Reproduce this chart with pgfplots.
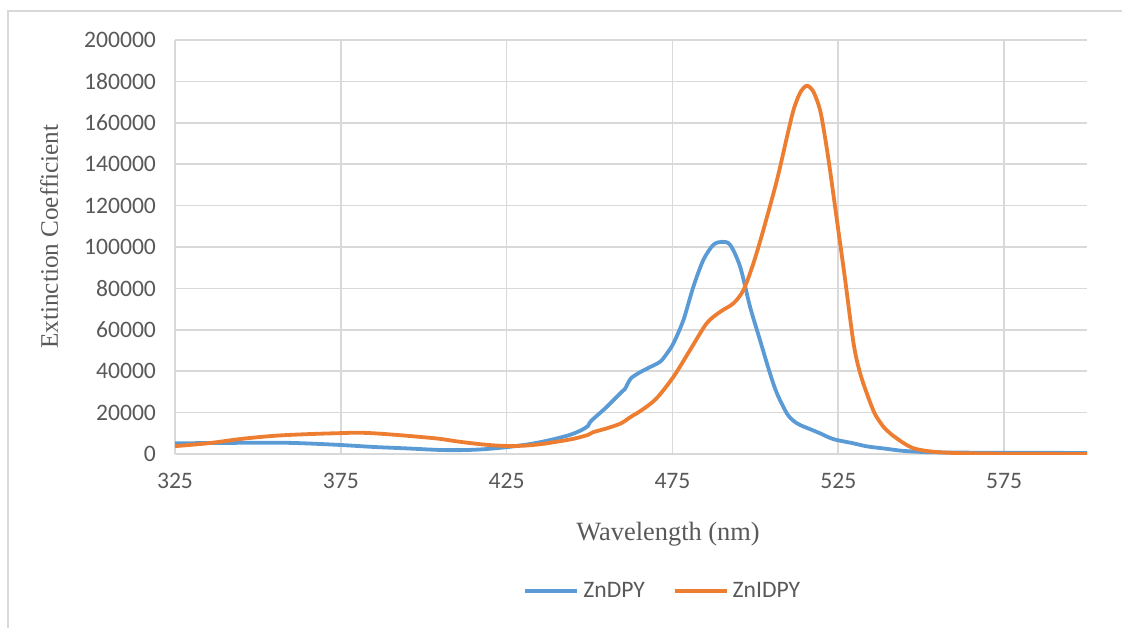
\documentclass[border=0pt]{standalone}
\usepackage{pgfplots}
\pgfplotsset{compat=1.18}
\usepackage{fontspec}
\setmainfont{Liberation Serif}
\newfontfamily\carlito{Carlito}
\definecolor{txtgray}{HTML}{595959}
\definecolor{gridgray}{HTML}{D9D9D9}
\definecolor{xlblue}{HTML}{5B9BD5}
\definecolor{xlorange}{HTML}{ED7D31}
\begin{document}
\begin{tikzpicture}
\path[use as bounding box] (0pt,0pt) rectangle (561pt,314pt);
\draw[gridgray, line width=0.7pt] (4pt,0pt) -- (4pt,308.5pt) -- (561pt,308.5pt);
\begin{axis}[
  at={(87.5pt,87pt)}, anchor=south west,
  scale only axis, width=456pt, height=207pt,
  xmin=325, xmax=600, ymin=0, ymax=200000,
  xtick={325,375,425,475,525,575},
  xticklabels={325,375,425,475,525,575},
  ytick={0,20000,40000,60000,80000,100000,120000,140000,160000,180000,200000},
  yticklabels={0,20000,40000,60000,80000,100000,120000,140000,160000,180000,200000},
  scaled y ticks=false,
  tick label style={font=\carlito\fontsize{11.8}{13}\selectfont, text=txtgray},
  yticklabel style={xshift=-6pt},
  xticklabel style={yshift=-6pt},
  major tick length=0pt,
  grid=major,
  major grid style={gridgray, line width=0.8pt},
  axis line style={draw=none},
  xlabel={Wavelength (nm)},
  ylabel={Extinction Coefficient},
  every axis x label/.style={at={(axis description cs:0.5406,-0.193)}, anchor=center,
    font=\fontsize{13.2}{15}\selectfont, text=txtgray},
  every axis y label/.style={at={(axis description cs:-0.138,0.525)}, anchor=center, rotate=90,
    font=\fontsize{12.6}{15}\selectfont, text=txtgray},
  legend columns=2,
  legend style={draw=none, fill=none, at={(axis description cs:0.536,-0.331)}, anchor=center,
    font=\carlito\fontsize{11.8}{13}\selectfont, text=txtgray,
    /tikz/every even column/.append style={column sep=12pt}},
  legend image code/.code={\draw[#1] (0pt,0pt) -- (26pt,0pt);},
]
\addplot[xlblue, line width=1.9pt, smooth, tension=0.5] coordinates {
(325,5150) (335,5300) (345,5400) (357,5450) (365,5100) (375,4350) (385,3400) (395,2700)
(405,1950) (412,1900) (418,2300) (425,3300) (432,4800) (438,6700) (444,9200) (447.5,11500)
(449.5,13500) (450.5,16000) (455,22500) (459.7,30000) (460.7,31500) (461.5,34000) (462.5,36600)
(465,39300) (468,41800) (471.3,44600) (473.3,48500) (475.3,53500) (478.3,64700) (481.3,80800)
(484.3,93700) (487.3,101000) (489.9,102500) (492.4,101000) (495.4,90500) (498.4,71100)
(501.4,55000) (504.4,39000) (506.5,29300) (509.5,19600) (511.5,16000) (513.5,14000) (516.5,12000)
(519.5,10000) (523.5,7200) (529.6,5150) (533.6,3700) (539.6,2500) (544,1600) (550,1000)
(555,800) (565,650) (580,600) (600,500)
};
\addlegendentry{ZnDPY}
\addplot[xlorange, line width=1.9pt, smooth, tension=0.5] coordinates {
(325,3800) (335,5200) (345,7300) (355,8800) (365,9600) (375,10100) (380,10300) (385,10000)
(392,9200) (400,8100) (405,7300) (410,6100) (415,5100) (420,4300) (425,3900) (430,4000)
(435,4700) (440,5900) (445,7300) (449.5,9200) (451,10500) (455,12300) (459.5,14800)
(462,17500) (466,21500) (470.2,26900) (475.3,37300) (480.3,50200) (485.3,63100) (489.4,68700)
(493.4,72800) (496.4,79200) (499.4,92100) (502.4,108200) (506.5,132300) (509.5,153000)
(511.5,166200) (513.5,174500) (515.5,177900) (517.5,175000) (519.5,166200) (521,153000)
(522.5,137200) (525,108200) (527,85000) (529.6,53500) (531.5,39500) (533.6,29300) (536,19500)
(538.6,13200) (541,9500) (542.6,7600) (544,6000) (546,4000) (548,2600) (550,1900) (553,1200)
(557,700) (562,400) (570,200) (580,100) (590,50) (600,0)
};
\addlegendentry{ZnIDPY}
\end{axis}
\end{tikzpicture}
\end{document}
